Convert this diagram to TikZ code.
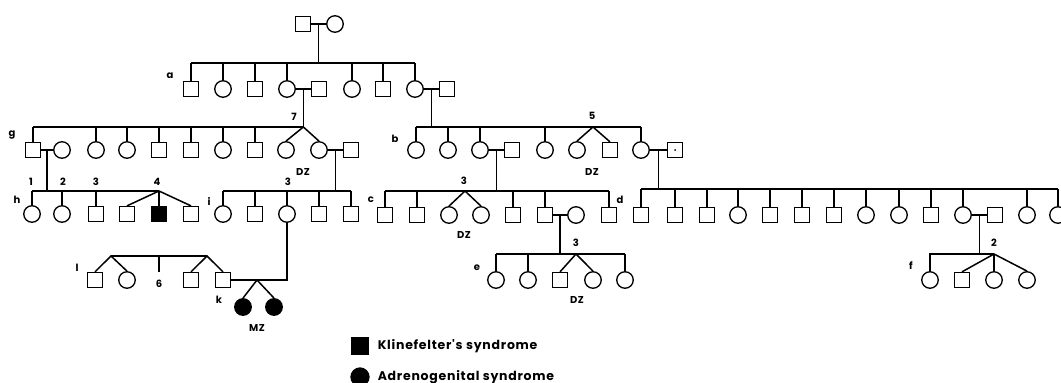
\documentclass[tikz,border=0pt]{standalone}
\usepackage{fontspec}
\usetikzlibrary{calc}
\newfontfamily\pedfont{Poppins}[LetterSpace=6]

\tikzset{
  sym/.style={#1},
  male/.style={draw, rectangle, minimum size=15pt, inner sep=0pt, line width=1.3pt},
  female/.style={draw, circle, minimum size=16.5pt, inner sep=0pt, line width=1.3pt},
  lbl/.style={font=\pedfont\bfseries\fontsize{10}{12}\selectfont, inner sep=0pt},
  key/.style={font=\pedfont\bfseries\fontsize{12.5}{14}\selectfont, inner sep=0pt, anchor=west},
}

\begin{document}
\begin{tikzpicture}[x=1pt, y=-1pt, line width=1.5pt]
\useasboundingbox (0,0) rectangle (1061,383);
% sibship levels
\coordinate (sa) at (0,63);
\coordinate (sg) at (0,127);
\coordinate (sh) at (0,191);
\coordinate (sd) at (0,189);
\coordinate (se) at (0,254);
\coordinate (sl) at (0,256);

% founders
\node[male] (p1) at (303,24) {};
\node[female] (p2) at (335,24) {};
\draw (p1) -- (p2);
\coordinate (mp) at ($(p1.east)!.5!(p2.west)$);
\draw (mp) -- (mp |- sa);

% row a
\foreach \n/\x/\s in {a1/191/male,a2/223/female,a3/255/male,a4/287/female,a4s/319/male,
                      a5/352/female,a6/383/male,a7/415/female,a7s/447/male}
  \node[sym=\s] (\n) at (\x,89) {};
\foreach \n in {a1,a2,a3,a4,a5,a6,a7}
  \draw (\n.north) -- (\n.north |- sa);
\draw (a1.north |- sa) -- (a7.north |- sa);
\node[lbl] (la) at (170,76) {a};
\draw (a4) -- (a4s);
\draw (a7) -- (a7s);
\coordinate (m4) at ($(a4.east)!.5!(a4s.west)$);
\coordinate (m7) at ($(a7.east)!.5!(a7s.west)$);
\draw (m4) -- (m4 |- sg);
\draw (m7) -- (m7 |- sg);
\node[lbl] (l7) at (294,117) {7};
\node[lbl] (l5) at (592,116) {5};

% row g
\foreach \n/\x/\s in {g1/33/male,g1s/62/female,g2/96/female,g3/127/female,g4/159/male,
                      g5/191/male,g6/223/female,g7/255/male,g8/286/female,g9/319/female,g9s/351/male}
  \node[sym=\s] (\n) at (\x,150) {};
\foreach \n in {g1,g2,g3,g4,g5,g6,g7}
  \draw (\n.north) -- (\n.north |- sg);
\draw (g1.north |- sg) -- (m4 |- sg);
\draw (g8.north) -- (m4 |- sg) -- (g9.north);
\node[lbl] (lg) at (12,135) {g};
\node[lbl] (dz1) at (303,172) {DZ};
\draw (g1) -- (g1s);
\draw (g9) -- (g9s);
\coordinate (mg1) at ($(g1.east)!.5!(g1s.west)$);
\coordinate (mg9) at ($(g9.east)!.5!(g9s.west)$);
\draw (mg1) -- (mg1 |- sh);
\draw (mg9) -- (mg9 |- sh);

% row b
\foreach \n/\x/\s in {b1/416/female,b2/448/female,b3/480/female,b3s/512/male,b4/545/female,
                      b5/577/female,b6/610/male,b7/641/female,b7s/675/male}
  \node[sym=\s] (\n) at (\x,150) {};
\foreach \n in {b1,b2,b3,b4,b7}
  \draw (\n.north) -- (\n.north |- sg);
\draw (b1.north |- sg) -- (b7.north |- sg);
\coordinate (tb) at (593,127);
\draw (b5.north) -- (tb) -- (b6.north);
\fill (b7s.center) circle (1pt);
\node[lbl] (lb) at (395,139) {b};
\node[lbl] (dz2) at (592,172) {DZ};
\draw (b3) -- (b3s);
\draw (b7) -- (b7s);
\coordinate (mb3) at ($(b3.east)!.5!(b3s.west)$);
\coordinate (mb7) at ($(b7.east)!.5!(b7s.west)$);
\draw (mb3) -- (mb3 |- sh);
\draw (mb7) -- (mb7 |- sd);

% row h
\foreach \n/\x/\s in {h1/32/female,h2/62/female,h3/96/male,h4/127/male,h6/191/male}
  \node[sym=\s] (\n) at (\x,214) {};
\node[male, fill] (h5) at (159,214) {};
\foreach \n in {h1,h2,h3}
  \draw (\n.north) -- (\n.north |- sh);
\draw (h1.north |- sh) -- (h5.north |- sh);
\draw (h4.north) -- (h5.north |- sh) -- (h6.north);
\draw (h5.north) -- (h5.north |- sh);
\node[lbl] (lh) at (17,200) {h};
\foreach \t/\x in {1/31,2/63,3/96,4/157}
  \node[lbl] (h\t n) at (\x,182) {\t};

% row i
\foreach \n/\x/\s in {i1/223/female,i2/255/male,i3/287/female,i4/319/male,i5/351/male}
  \node[sym=\s] (\n) at (\x,214) {};
\foreach \n in {i1,i2,i3,i4,i5}
  \draw (\n.north) -- (\n.north |- sh);
\draw (i1.north |- sh) -- (i5.north |- sh);
\node[lbl] (li) at (209,201) {i};
\node[lbl] (i3n) at (288,182) {3};

% row c
\foreach \n/\x/\s in {c1/385/male,c2/417/male,c3/449/female,c4/481/female,c5/513/male,
                      c6/545/male,c6s/576/female,c7/609/male}
  \node[sym=\s] (\n) at (\x,215) {};
\foreach \n in {c1,c2,c5,c6,c7}
  \draw (\n.north) -- (\n.north |- sh);
\draw (c1.north |- sh) -- (c7.north |- sh);
\coordinate (tc) at (465,191);
\draw (c3.north) -- (tc) -- (c4.north);
\node[lbl] (lc) at (371,200) {c};
\node[lbl] (c3n) at (464,181) {3};
\node[lbl] (dz3) at (464,235) {DZ};
\draw (c6) -- (c6s);
\coordinate (mc6) at ($(c6.east)!.5!(c6s.west)$);
\draw (mc6) -- (mc6 |- se);

% row d
\foreach \n/\x/\s in {d1/641/male,d2/675/male,d3/707/male,d4/738/female,d5/770/male,
                      d6/802/male,d7/834/male,d8/866/female,d9/899/female,d10/931/male,
                      d11/963/female,d11s/995/male,d12/1027/female,d13/1058/female}
  \node[sym=\s] (\n) at (\x,215) {};
\foreach \n in {d1,d2,d3,d4,d5,d6,d7,d8,d9,d10,d11,d12,d13}
  \draw (\n.north) -- (\n.north |- sd);
\draw (d1.north |- sd) -- (d13.north |- sd);
\node[lbl] (ld) at (620,200) {d};
\draw (d11) -- (d11s);
\coordinate (md11) at ($(d11.east)!.5!(d11s.west)$);
\draw (md11) -- (md11 |- se);

% row e
\foreach \n/\x/\s in {e1/496/female,e2/528/female,e3/560/male,e4/593/female,e5/625/female}
  \node[sym=\s] (\n) at (\x,280) {};
\foreach \n in {e1,e2,e5}
  \draw (\n.north) -- (\n.north |- se);
\draw (e1.north |- se) -- (e5.north |- se);
\coordinate (te) at (576,254);
\draw (e3.north) -- (te) -- (e4.north);
\node[lbl] (le) at (477,268) {e};
\node[lbl] (e3n) at (576,243) {3};
\node[lbl] (dz4) at (577,300) {DZ};

% row f
\foreach \n/\x/\s in {f1/930/female,f2/962/male,f3/994/female,f4/1027/female}
  \node[sym=\s] (\n) at (\x,280) {};
\draw (f1.north) -- (f1.north |- se) -- (f3.north |- se);
\draw (f2.north) -- (f3.north |- se) -- (f4.north);
\draw (f3.north) -- (f3.north |- se);
\node[lbl] (lf) at (911,266) {f};
\node[lbl] (f2n) at (994,243) {2};

% row l, k
\foreach \n/\x/\s in {l1/95/male,l2/127/female,l3/191/male,k/223/male}
  \node[sym=\s] (\n) at (\x,280) {};
\coordinate (tl1) at (111,256);
\coordinate (tl2) at (207,256);
\draw (l1.north) -- (tl1) -- (l2.north);
\draw (l3.north) -- (tl2) -- (k.north);
\draw (tl1) -- (tl2);
\node[lbl] (n6) at (159,284) {6};
\coordinate (s6) at (159,272);
\draw (s6) -- (s6 |- sl);
\node[lbl] (ll) at (77,268) {l};
\node[lbl] (lk) at (219,300) {k};
\draw (i3.south) -- (i3.south |- k) -- (k.east);
\coordinate (tk) at (257,280);
\node[female, fill] (mz1) at (243,307) {};
\node[female, fill] (mz2) at (274,307) {};
\draw (mz1.north) -- (tk) -- (mz2.north);
\node[lbl] (mz) at (257,328) {MZ};

% key
\node[male, fill, minimum size=16.5pt] (kk) at (360,346) {};
\node[key] (kkt) at (377,346) {Klinefelter's syndrome};
\node[female, fill, minimum size=18pt] (ka) at (360,377) {};
\node[key] (kat) at (377,377) {Adrenogenital syndrome};
\end{tikzpicture}
\end{document}
